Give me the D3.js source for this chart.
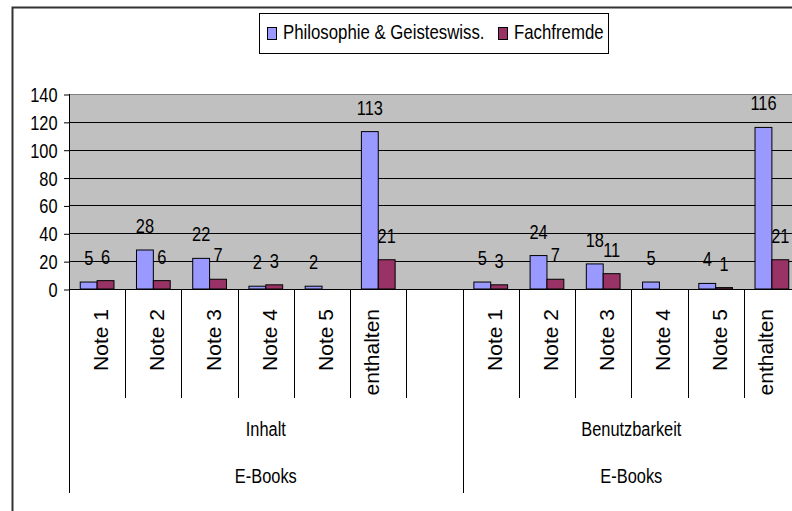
<!DOCTYPE html>
<html>
<head>
<meta charset="utf-8">
<script src="https://cdn.jsdelivr.net/npm/d3@7"></script>
<style>
  html, body { margin: 0; padding: 0; background: #fff; }
  svg { display: block; font-family: "Liberation Sans", Arial, sans-serif; }
</style>
</head>
<body>
<svg id="chart" width="792" height="511"></svg>
<script>
// ---------- data ----------
const seriesNames = ["Philosophie & Geisteswiss.", "Fachfremde"];
const seriesColors = ["#9999FF", "#993366"];
const outerGroup = "E-Books";
const groupNames = ["Inhalt", "Benutzbarkeit"];
const inhaltCategories = ["Note 1", "Note 2", "Note 3", "Note 4", "Note 5", "enthalten", ""];
const benutzCategories = ["Note 1", "Note 2", "Note 3", "Note 4", "Note 5", "enthalten"];
const philosophieInhalt = [5, 28, 22, 2, 2, 113, null];
const fachfremdeInhalt  = [6, 6, 7, 3, null, 21, null];
const philosophieBenutz = [5, 24, 18, 5, 4, 116];
const fachfremdeBenutz  = [3, 7, 11, null, 1, 21];
const yTicks = [0, 20, 40, 60, 80, 100, 120, 140];

// ---------- build rows ----------
const rows = [];
inhaltCategories.forEach((c, i) => rows.push({
  key: "Inhalt|" + i, group: groupNames[0], label: c,
  values: [philosophieInhalt[i], fachfremdeInhalt[i]]
}));
benutzCategories.forEach((c, i) => rows.push({
  key: "Benutzbarkeit|" + i, group: groupNames[1], label: c,
  values: [philosophieBenutz[i], fachfremdeBenutz[i]]
}));

// ---------- layout ----------
const plotLeft = 69, plotRight = 800, plotTop = 94, plotBottom = 289;
const sx = 0.78; // horizontal text compression
const svg = d3.select("#chart");

const x = d3.scaleBand().domain(rows.map(r => r.key)).range([plotLeft, plotRight]).padding(0);
const x1 = d3.scaleBand().domain([0, 1]).range([0, x.bandwidth()]).paddingInner(0).paddingOuter(0.667);
const y = d3.scaleLinear().domain([0, 140]).range([plotBottom, plotTop]);

// outer chart border
svg.append("rect").attr("x", 12.5).attr("y", 7.5).attr("width", 820).attr("height", 540)
  .attr("fill", "none").attr("stroke", "#333").attr("stroke-width", 2);

// plot background
svg.append("rect").attr("x", plotLeft).attr("y", plotTop)
  .attr("width", plotRight - plotLeft).attr("height", plotBottom - plotTop)
  .attr("fill", "#C0C0C0");

// gridlines
svg.append("g").selectAll("line").data(yTicks.filter(t => t > 0))
  .join("line")
  .attr("x1", plotLeft).attr("x2", plotRight)
  .attr("y1", d => Math.round(y(d)) + 0.5).attr("y2", d => Math.round(y(d)) + 0.5)
  .attr("stroke", d => d === 140 ? "#808080" : "#000").attr("stroke-width", 1);

// y axis
const yAxis = svg.append("g").attr("transform", `translate(${plotLeft},0)`)
  .call(d3.axisLeft(y).tickValues(yTicks).tickSize(5).tickSizeOuter(0));
yAxis.select(".domain").remove();
yAxis.selectAll(".tick line").attr("stroke", "#000").attr("transform", "translate(0,0.5)");
yAxis.selectAll(".tick text")
  .attr("font-size", 21).attr("fill", "#000")
  .attr("font-family", "Liberation Sans, Arial, sans-serif")
  .attr("x", -11.5 / sx).attr("dy", "0.36em")
  .attr("transform", `scale(${sx},1)`);
svg.append("line").attr("x1", plotLeft + 0.5).attr("x2", plotLeft + 0.5)
  .attr("y1", plotTop).attr("y2", plotBottom).attr("stroke", "#000");

// bars
const bars = [];
rows.forEach(r => r.values.forEach((v, s) => { if (v !== null) bars.push({ r, s, v }); }));
svg.append("g").selectAll("rect").data(bars).join("rect")
  .attr("x", d => x(d.r.key) + x1(d.s))
  .attr("y", d => y(d.v))
  .attr("width", x1.bandwidth())
  .attr("height", d => y(0) - y(d.v))
  .attr("fill", d => seriesColors[d.s])
  .attr("stroke", "#000").attr("stroke-width", 1);

// value labels
svg.append("g").selectAll("text").data(bars).join("text")
  .attr("transform", d => `translate(${x(d.r.key) + x1(d.s) + x1.bandwidth() / 2},${y(d.v) - 17}) scale(${sx},1)`)
  .attr("text-anchor", "middle").attr("font-size", 21).attr("fill", "#000")
  .text(d => d.v);

// x axis line
svg.append("line").attr("x1", plotLeft).attr("x2", plotRight)
  .attr("y1", plotBottom + 0.5).attr("y2", plotBottom + 0.5).attr("stroke", "#000");

// category separators
const bounds = [];
rows.forEach((r, i) => {
  const long = i === 0 || rows[i - 1].group !== r.group;
  bounds.push({ x: x(r.key), long });
});
bounds.push({ x: plotRight, long: true });
svg.append("g").selectAll("line").data(bounds).join("line")
  .attr("x1", d => Math.round(d.x) + 0.5).attr("x2", d => Math.round(d.x) + 0.5)
  .attr("y1", plotBottom).attr("y2", d => d.long ? 493 : 398)
  .attr("stroke", "#000");

// rotated category labels
svg.append("g").selectAll("text").data(rows).join("text")
  .attr("transform", d => `translate(${x(d.key) + x.bandwidth() / 2 + (d.label.length > 6 ? 1 : 11)},309) rotate(-90)`)
  .attr("text-anchor", "end").attr("font-size", 21).attr("fill", "#000")
  .text(d => d.label);

// group labels
groupNames.forEach(g => {
  const gr = rows.filter(r => r.group === g);
  const x0 = x(gr[0].key), xEnd = x(gr[gr.length - 1].key) + x.bandwidth();
  const cx = (x0 + xEnd) / 2;
  svg.append("text").attr("transform", `translate(${cx},436) scale(${sx},1)`)
    .attr("text-anchor", "middle").attr("font-size", 21).text(g);
  svg.append("text").attr("transform", `translate(${cx},483) scale(${sx},1)`)
    .attr("text-anchor", "middle").attr("font-size", 21).text(outerGroup);
});

// legend
const legend = svg.append("g");
legend.append("rect").attr("x", 259.5).attr("y", 13.5).attr("width", 349).attr("height", 40)
  .attr("fill", "#fff").attr("stroke", "#000");
const legendX = [267, 498];
seriesNames.forEach((n, i) => {
  legend.append("rect").attr("x", legendX[i] + 0.5).attr("y", 27.5).attr("width", 9).attr("height", 12)
    .attr("fill", seriesColors[i]).attr("stroke", "#000");
  legend.append("text").attr("transform", `translate(${legendX[i] + 16},39) scale(0.84,1)`)
    .attr("font-size", 20).text(n);
});
</script>
</body>
</html>
